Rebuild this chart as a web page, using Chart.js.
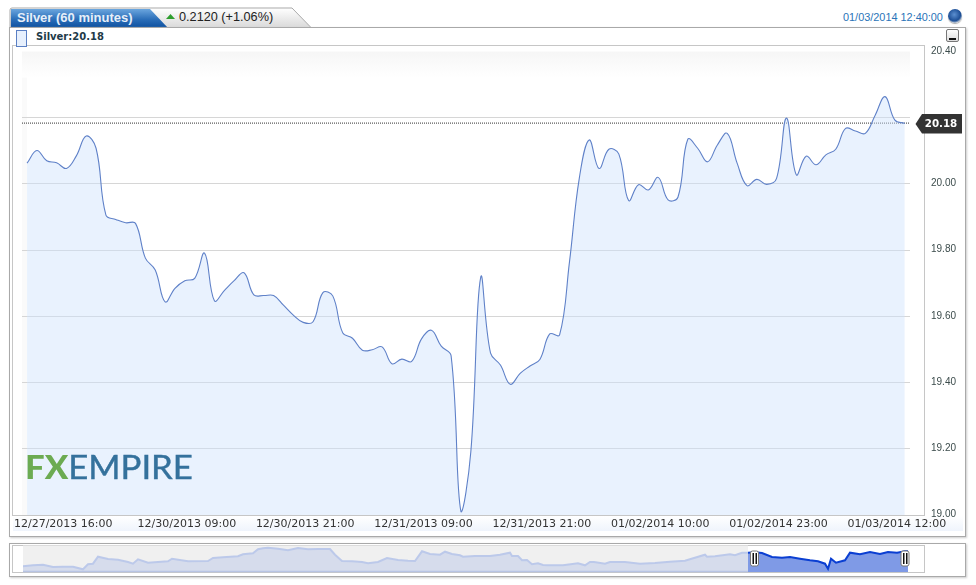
<!DOCTYPE html>
<html><head><meta charset="utf-8">
<script src="https://cdn.jsdelivr.net/npm/chart.js@4"></script>
<style>
html,body{margin:0;padding:0;background:#fff;width:976px;height:585px;overflow:hidden;font-family:"Liberation Sans",Arial,sans-serif}
.abs{position:absolute;white-space:nowrap}
#panel{left:9px;top:27px;width:955px;height:508px;border:1px solid #a9a9a9;box-shadow:1px 1px 2px #ccc;background:#fff}
#frame{left:12px;top:45px;width:911px;height:469px;border:1px solid #c6c6c6}
#band{left:13px;top:516px;width:950px;height:15px;background:linear-gradient(#fff,#eff4fc)}
#navpanel{left:9px;top:543px;width:955px;height:32px;border:1px solid #a9a9a9;box-shadow:1px 1px 2px #ccc;background:#fff}
#navframe{left:12px;top:545px;width:911px;height:26px;border:1px solid #c6c6c6}
#main{position:absolute;left:0;top:0}
#nav{position:absolute;left:0;top:540px}
#tabsvg{position:absolute;left:0;top:0}
#t1{left:17px;top:10px;font:bold 13px/15px "Liberation Sans";color:#e6eff9}
#t2{left:179px;top:10px;font:12.7px/15px "Liberation Sans";color:#222}
#date{left:843px;top:11px;font:10.9px/13px "Liberation Sans";color:#2a74b8}
#legend{left:36px;top:30px;font:bold 10px/13px "DejaVu Sans";color:#1e3a48}
#swatch{left:16px;top:30px;width:9px;height:15px;border:1px solid #5a7fc4;background:#e7f0fd}
#min{left:946px;top:29px;width:11px;height:11px;border:1px solid #777;border-radius:2px;background:linear-gradient(#fff,#ddd)}
#min i{position:absolute;left:2px;bottom:1px;width:7px;height:2px;background:#111}
#globe{left:948px;top:9px;width:14px;height:14px;border-radius:50%;background:radial-gradient(circle at 45% 40%,#5b8fd0,#1d4f96 55%,#c9d0d8 75%,#eee);box-shadow:0 1px 1px #aaa}
#logo{left:25px;top:445px;font:400 32px/44px "Lato";color:#34719c;transform-origin:left top;transform:scaleX(1.085);-webkit-text-stroke:.4px #34719c}
#logo b{color:#6cab52;font-weight:900;-webkit-text-stroke:0}
</style></head><body>
<svg id="tabsvg" width="330" height="30">
<defs><linearGradient id="g1" x1="0" y1="0" x2="0" y2="1"><stop offset="0" stop-color="#fff"/><stop offset="1" stop-color="#d8d8d8"/></linearGradient>
<linearGradient id="g2" x1="0" y1="0" x2="0" y2="1"><stop offset="0" stop-color="#6ba6de"/><stop offset=".55" stop-color="#2a6db8"/><stop offset="1" stop-color="#0d4f9e"/></linearGradient></defs>
<path d="M10 28V10Q10 8 12 8H292L311 27.5" fill="url(#g1)" stroke="#a9a9a9"/>
<path d="M11 28V9H150L168 28Z" fill="url(#g2)"/>
<path d="M166 19L170.5 14L175 19Z" fill="#2e9e2e"/>
</svg>
<div class="abs" id="panel"></div>
<div class="abs" id="frame"></div>
<div class="abs" id="band"></div>
<div class="abs" id="navpanel"></div>
<div class="abs" id="navframe"></div>
<div class="abs" id="t1">Silver (60 minutes)</div>
<div class="abs" id="t2">0.2120 (+1.06%)</div>
<div class="abs" id="date">01/03/2014 12:40:00</div>
<div class="abs" id="globe"></div>
<div class="abs" id="swatch"></div>
<div class="abs" id="legend">Silver:20.18</div>
<div class="abs" id="min"><i></i></div>
<canvas id="main" width="976" height="585"></canvas>
<canvas id="nav" width="976" height="45"></canvas>
<div class="abs" id="logo"><b>FX</b>EMPIRE</div>
<script>
const seriesName = "Silver";
const closes = [20.063,20.101,20.070,20.064,20.047,20.085,20.145,20.108,19.906,19.893,
19.883,19.881,19.776,19.740,19.644,19.685,19.708,19.715,19.791,19.647,
19.678,19.708,19.732,19.665,19.663,19.663,19.634,19.604,19.582,19.584,
19.672,19.662,19.551,19.534,19.498,19.499,19.508,19.457,19.471,19.464,
19.532,19.558,19.510,19.481,19.010,19.191,19.718,19.489,19.453,19.395,
19.428,19.450,19.470,19.547,19.544,19.764,20.018,20.133,20.047,20.105,
20.091,19.950,19.998,19.982,20.020,19.952,19.960,20.135,20.108,20.067,
20.118,20.153,20.063,19.995,20.014,19.999,20.017,20.199,20.028,20.084,
20.058,20.088,20.105,20.168,20.160,20.153,20.208,20.264,20.193,20.183];
const tickIndex = [4,16,28,40,52,64,76,88];
const tickLabels = ["12/27/2013 16:00","12/30/2013 09:00","12/30/2013 21:00","12/31/2013 09:00","12/31/2013 21:00","01/02/2014 10:00","01/02/2014 23:00","01/03/2014 12:00"];
const priceTicks = [19,19.2,19.4,19.6,19.8,20,20.2,20.4];
const lastPrice = 20.184;

const overviewPos = [0,10,20,30,40,50,60,65,70,75,85,95,105,110,115,125,135,145,149,165,185,190,200,215,220,230,235,240,245,255,265,275,285,295,307,312,319,329,339,345,355,364,375,385,392,399,407,417,422,429,437,440,452,467,477,487,489,495,499,504,509,515,520,525,540,555,562,567,571,582,587,602,617,632,647,662,682,684,692,707,712,719,725];
const overviewLevel = [5.7,6.7,7.3,5,5.3,5.3,2.7,7.7,8.3,15.3,13,12.3,10,8.3,12.7,9.3,10,10.7,13.3,10.7,11,14,14.7,15.7,17.7,18.7,22.7,23.7,24.3,23.3,21.7,24,22.7,23,23,17.3,11,10.7,10,8.7,10,14,12,11.3,11,20.7,18,17.3,20.3,18,16.7,15.3,16,16,17.3,19.3,16,16,11.7,12,7.7,8.7,7,6.7,6.7,8.7,6.7,10,10,8.3,10,10,8.3,9,10.3,11.3,17.3,15.3,15.7,17.7,16.7,19.3,19.3];
const selectedPos = [725,732,739,749,759,767,777,787,795,802,805,808,813,822,827,837,847,857,865,874,882,886];
const selectedLevel = [19.3,19.7,19,15,14.3,15,13.3,11.7,10.7,8.3,3.3,13.3,9.3,11.7,19.3,17.7,20,18,20,19.3,20.7,20.7];

const bgPlugin = {
  id:'bg',
  beforeDraw(c){
    const a=c.chartArea, x=c.ctx, sx=c.scales.x;
    x.save();
    const g=x.createLinearGradient(0,a.top,0,a.top+26);
    g.addColorStop(0,'#f6f6f6'); g.addColorStop(1,'#ffffff');
    x.fillStyle=g; x.fillRect(a.left,a.top,a.right-a.left,26);
    x.fillStyle='#fafafa'; x.fillRect(a.left,a.top+26,sx.getPixelForValue(0)-a.left,a.bottom-a.top-26);
    x.restore();
  },
  afterDraw(c){
    const y=c.scales.y.getPixelForValue(lastPrice), x=c.ctx;
    x.save();
    x.fillStyle='#333';
    x.beginPath(); x.moveTo(915.5,y+1); x.lineTo(922,y-9); x.lineTo(962,y-9); x.lineTo(962,y+10.5); x.lineTo(922,y+10.5); x.closePath(); x.fill();
    x.fillStyle='#fff'; x.font='bold 10.3px "DejaVu Sans"'; x.textAlign='center'; x.textBaseline='middle';
    x.fillText(lastPrice.toFixed(2),941,y+1);
    x.restore();
  }
};
new Chart(document.getElementById('main'),{
  type:'line',
  data:{datasets:[
    {label:seriesName,data:closes.map((v,i)=>({x:i,y:v})),borderColor:'#5f81c8',borderWidth:1.1,backgroundColor:'rgba(207,226,252,0.45)',fill:'start',pointRadius:0,tension:0.4},
    {label:'last',data:[{x:-0.51,y:lastPrice},{x:89.53,y:lastPrice}],borderColor:'#333',borderWidth:1,borderDash:[1,1],pointRadius:0,fill:false}
  ]},
  plugins:[bgPlugin],
  options:{
    responsive:false,animation:false,
    layout:{padding:{left:22,top:51.6,right:0,bottom:0}},
    plugins:{legend:{display:false},tooltip:{enabled:false}},
    scales:{
      x:{type:'linear',min:-0.51,max:89.53,
        afterBuildTicks(s){s.ticks=tickIndex.map(v=>({value:v}));},
        afterFit(s){s.height=70;},
        grid:{display:false,drawTicks:false,tickLength:0},border:{display:false},
        ticks:{autoSkip:false,maxRotation:0,padding:3,labelOffset:2,color:'#333',font:{family:'"DejaVu Sans"',size:11},
          callback(v){const k=tickIndex.indexOf(v);return k===0?tickLabels[k]+'\u00a0\u00a0\u00a0':tickLabels[k];}}
      },
      y:{type:'linear',position:'right',min:19,max:20.4,
        afterBuildTicks(s){s.ticks=priceTicks.map(v=>({value:v}));},
        afterFit(s){s.width=66;},
        border:{display:false},
        grid:{drawTicks:false,color:(k)=>(k.tick&&k.tick.value>=20.4||k.tick&&k.tick.value<=19)?'transparent':'#d6d6d6',lineWidth:1},
        ticks:{padding:21,color:'#3c4c4c',font:{family:'"Liberation Sans"',size:10},labelOffset:-0.5,
          callback(v){return Math.abs(v-lastPrice)<0.03?'':v.toFixed(2);}}
      }
    }
  }
});

const handlePlugin = {
  id:'handles',
  beforeDraw(c){
    const a=c.chartArea,x=c.ctx,s=c.scales.x;
    x.save();
    x.fillStyle='#f0f0f0';
    x.fillRect(s.getPixelForValue(0),a.top,s.getPixelForValue(725)-s.getPixelForValue(0),a.bottom-a.top);
    x.restore();
  },
  afterDraw(c){
    const x=c.ctx,s=c.scales.x,a=c.chartArea;
    x.save();
    x.strokeStyle='#b8c4e4'; x.lineWidth=1.5;
    x.beginPath(); x.moveTo(s.getPixelForValue(0),a.bottom-0.5); x.lineTo(s.getPixelForValue(725),a.bottom-0.5); x.stroke();
    [731,881.5].forEach(p=>{
      const px=s.getPixelForValue(p);
      x.fillStyle='#fff'; x.strokeStyle='#777'; x.lineWidth=1;
      x.beginPath(); x.roundRect(px-3.5,11,8,15,2); x.fill(); x.stroke();
      x.fillStyle='#111'; x.fillRect(px-1.5,13,1.5,11); x.fillRect(px+1.5,13,1.5,11);
    });
    x.restore();
  }
};
new Chart(document.getElementById('nav'),{
  type:'line',
  data:{datasets:[
    {label:'overview',data:overviewPos.map((p,i)=>({x:p,y:overviewLevel[i]})),borderColor:'#bcc9ea',borderWidth:2,backgroundColor:'#d6dcec',fill:'start',pointRadius:0,tension:0},
    {label:'selection',data:selectedPos.map((p,i)=>({x:p,y:selectedLevel[i]})),borderColor:'#0b3fd2',borderWidth:2,backgroundColor:'#7f9ae6',fill:'start',pointRadius:0,tension:0}
  ]},
  plugins:[handlePlugin],
  options:{
    responsive:false,animation:false,
    layout:{padding:{left:23,top:5.5,right:68,bottom:13}},
    plugins:{legend:{display:false},tooltip:{enabled:false}},
    scales:{
      x:{type:'linear',min:0,max:885,display:false},
      y:{type:'linear',min:0,max:26.5,display:false}
    }
  }
});
</script>
</body></html>
